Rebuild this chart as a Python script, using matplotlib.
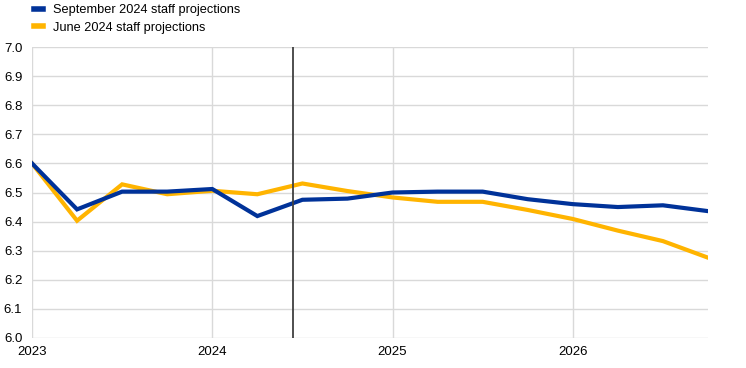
import numpy as np
import matplotlib.pyplot as plt
from matplotlib.lines import Line2D

plt.rcParams['font.family'] = ['Liberation Sans Narrow', 'Liberation Sans', 'DejaVu Sans']

quarters = np.arange(2023, 2027, 0.25)
september = [6.60, 6.442, 6.503, 6.503, 6.512, 6.419, 6.475, 6.479,
             6.500, 6.503, 6.503, 6.477, 6.460, 6.450, 6.456, 6.436]
june = [6.60, 6.403, 6.528, 6.494, 6.506, 6.494, 6.531, 6.505,
        6.483, 6.468, 6.468, 6.440, 6.409, 6.369, 6.333, 6.276]
cutoff = 2024.45
blue = '#003299'
yellow = '#ffb400'

fig = plt.figure(figsize=(7.46, 3.68), dpi=100)
ax = fig.add_axes([32/746, 1-338/368, (708-32)/746, (338-47)/368])

ax.plot(quarters, june, color=yellow, lw=3, solid_joinstyle='miter', zorder=3)
ax.plot(quarters, september, color=blue, lw=3, solid_joinstyle='miter', zorder=4)
ax.axvline(cutoff, color='#404040', lw=1.3, zorder=5)

ax.set_xlim(2023, 2026.75)
ax.set_ylim(6.0, 7.0)
ax.set_yticks(np.arange(6.0, 7.01, 0.1))
ax.set_yticklabels([f'{v:.1f}' for v in np.arange(6.0, 7.01, 0.1)])
ax.set_xticks([2023, 2024, 2025, 2026])
ax.set_xticklabels(['2023', '2024', '2025', '2026'])
ax.grid(True, color='#d9d9d9', lw=1)
ax.set_axisbelow(True)
for s in ax.spines.values():
    s.set_visible(False)
ax.tick_params(length=0, labelsize=9.5, colors='#000000')
ax.tick_params(axis='y', pad=7)
ax.tick_params(axis='x', pad=6)

handles = [Line2D([], [], color=blue, lw=4), Line2D([], [], color=yellow, lw=4)]
fig.legend(handles, ['September 2024 staff projections', 'June 2024 staff projections'],
           loc='upper left', bbox_to_anchor=(22/746, 1.02), frameon=False,
           handlelength=0.75, handletextpad=0.75, labelspacing=0.45, fontsize=9.2)

fig.savefig('out.png', dpi=100)
